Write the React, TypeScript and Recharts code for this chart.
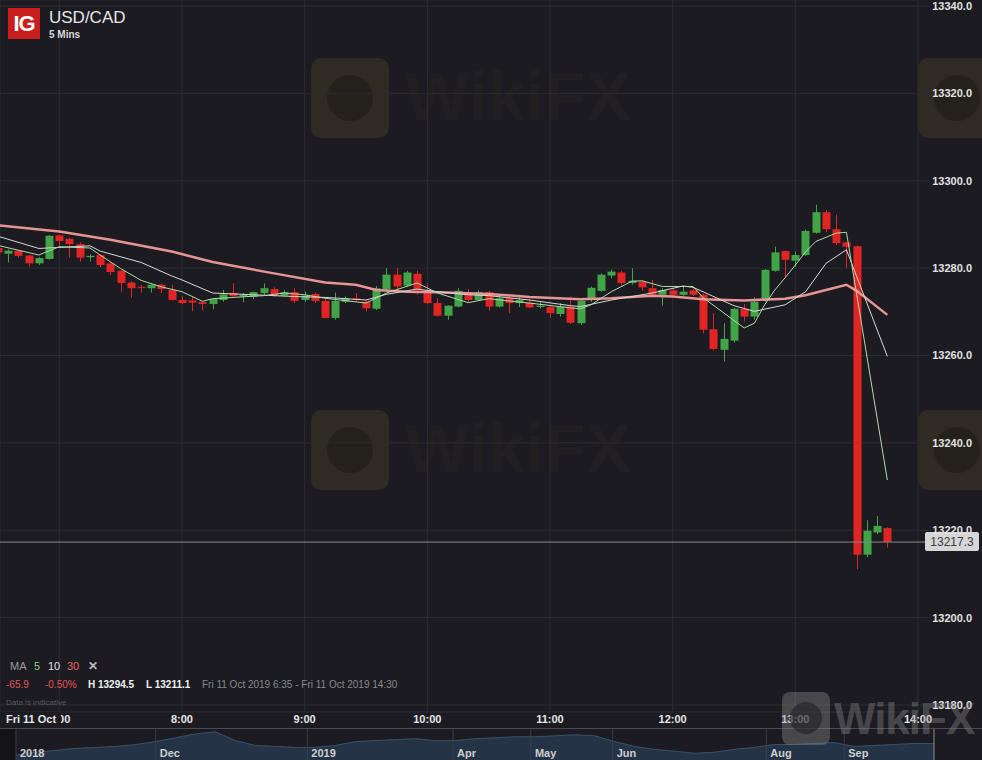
import {
  Area,
  AreaChart,
  Bar,
  CartesianGrid,
  ComposedChart,
  Line,
  ReferenceLine,
  XAxis,
  YAxis,
} from "recharts";

const BG = "#1c1b21";
const GRID = "#2c2c33";
const UP = "#41a447";
const DOWN = "#e12424";
const FONT = '"Liberation Sans", Arial, sans-serif';

// USD/CAD 5 min candles, Fri 11 Oct 2019
const times = [
  "06:30", "06:35", "06:40", "06:45", "06:50", "06:55",
  "07:00", "07:05", "07:10", "07:15", "07:20", "07:25", "07:30", "07:35", "07:40", "07:45", "07:50", "07:55",
  "08:00", "08:05", "08:10", "08:15", "08:20", "08:25", "08:30", "08:35", "08:40", "08:45", "08:50", "08:55",
  "09:00", "09:05", "09:10", "09:15", "09:20", "09:25", "09:30", "09:35", "09:40", "09:45", "09:50", "09:55",
  "10:00", "10:05", "10:10", "10:15", "10:20", "10:25", "10:30", "10:35", "10:40", "10:45", "10:50", "10:55",
  "11:00", "11:05", "11:10", "11:15", "11:20", "11:25", "11:30", "11:35", "11:40", "11:45", "11:50", "11:55",
  "12:00", "12:05", "12:10", "12:15", "12:20", "12:25", "12:30", "12:35", "12:40", "12:45", "12:50", "12:55",
  "13:00", "13:05", "13:10", "13:15", "13:20", "13:25", "13:30", "13:35", "13:40", "13:45",
];

const opens = [
  13284.6, 13283.3, 13284.0, 13282.9, 13281.1, 13282.1,
  13287.5, 13286.7, 13285.5, 13282.5, 13283.0, 13281.1, 13279.4, 13276.7, 13275.7, 13275.4, 13276.2, 13275.0,
  13272.7, 13272.6, 13272.2, 13271.8, 13272.7, 13274.3, 13273.5, 13273.5, 13274.3, 13275.2, 13273.7, 13274.5,
  13272.7, 13274.1, 13272.5, 13268.6, 13272.3, 13273.1, 13272.3, 13270.7, 13275.2, 13278.5, 13276.0, 13278.7,
  13274.9, 13272.0, 13269.1, 13271.2, 13274.4, 13272.7, 13274.5, 13271.2, 13273.1, 13272.0, 13272.1, 13271.1,
  13271.1, 13269.5, 13271.2, 13267.4, 13272.7, 13274.8, 13278.3, 13279.0, 13276.6, 13276.9, 13275.4, 13273.9,
  13274.9, 13273.9, 13274.9, 13273.9, 13266.0, 13261.3, 13263.4, 13270.7, 13268.9, 13272.6, 13279.4, 13283.9,
  13281.7, 13283.0, 13288.1, 13292.8, 13288.9, 13285.9, 13285.0, 13214.4, 13219.5, 13220.5,
];

const highs = [
  13285.0, 13284.3, 13284.2, 13283.0, 13282.5, 13287.6,
  13287.7, 13287.0, 13285.9, 13283.1, 13283.1, 13281.3, 13279.6, 13277.0, 13276.1, 13276.3, 13276.4, 13276.2,
  13273.5, 13273.5, 13272.3, 13273.1, 13275.0, 13276.5, 13274.3, 13274.6, 13276.5, 13275.6, 13274.9, 13275.4,
  13274.6, 13274.4, 13272.9, 13274.4, 13273.5, 13274.3, 13272.7, 13275.9, 13280.0, 13280.0, 13279.4, 13279.4,
  13276.5, 13273.1, 13271.5, 13275.4, 13275.2, 13274.9, 13274.8, 13274.0, 13273.9, 13273.9, 13272.9, 13272.3,
  13271.4, 13272.0, 13273.5, 13272.9, 13275.8, 13278.8, 13279.7, 13279.4, 13280.0, 13277.2, 13277.3, 13275.4,
  13275.4, 13275.9, 13275.4, 13274.1, 13269.7, 13267.4, 13270.9, 13271.8, 13273.3, 13279.8, 13284.9, 13284.1,
  13283.8, 13288.8, 13294.5, 13293.3, 13292.2, 13286.0, 13285.2, 13222.3, 13223.3, 13220.7,
];

const lows = [
  13283.3, 13281.3, 13282.4, 13280.2, 13280.7, 13281.9,
  13285.1, 13282.4, 13281.5, 13281.5, 13280.2, 13278.4, 13274.6, 13273.3, 13274.4, 13274.4, 13274.3, 13272.6,
  13271.8, 13270.1, 13270.3, 13270.6, 13272.3, 13273.5, 13272.2, 13272.9, 13273.9, 13273.5, 13273.5, 13272.0,
  13272.3, 13272.0, 13268.5, 13268.2, 13272.0, 13272.3, 13270.1, 13270.4, 13275.0, 13275.0, 13275.8, 13273.9,
  13271.8, 13268.9, 13268.2, 13271.0, 13272.3, 13272.5, 13270.3, 13271.0, 13269.7, 13271.1, 13270.8, 13270.8,
  13268.6, 13268.9, 13267.2, 13267.0, 13272.3, 13274.6, 13277.7, 13276.2, 13276.2, 13274.9, 13273.7, 13271.4,
  13273.7, 13273.6, 13273.6, 13265.1, 13261.1, 13258.6, 13263.0, 13267.8, 13268.2, 13272.3, 13279.2, 13277.7,
  13280.3, 13282.8, 13287.9, 13288.2, 13285.3, 13280.0, 13211.1, 13213.8, 13219.1, 13216.0,
];

const closes = [
  13283.6, 13284.0, 13282.8, 13281.1, 13282.3, 13287.4,
  13286.2, 13285.5, 13282.4, 13282.8, 13280.7, 13279.1, 13276.6, 13275.4, 13275.5, 13276.2, 13275.2, 13272.7,
  13272.0, 13272.1, 13271.8, 13272.9, 13274.0, 13273.6, 13273.9, 13274.5, 13275.4, 13273.7, 13274.5, 13272.5,
  13273.7, 13272.5, 13268.6, 13272.5, 13273.1, 13272.7, 13270.8, 13275.4, 13278.5, 13275.8, 13279.0, 13274.9,
  13272.0, 13269.1, 13271.4, 13274.8, 13272.7, 13274.5, 13271.2, 13273.1, 13272.0, 13272.7, 13271.0, 13271.4,
  13269.7, 13271.2, 13267.5, 13272.5, 13275.5, 13278.5, 13279.2, 13276.6, 13277.1, 13275.6, 13273.9, 13275.0,
  13273.9, 13274.6, 13273.9, 13265.9, 13261.5, 13263.8, 13270.7, 13268.9, 13272.3, 13279.6, 13283.6, 13281.9,
  13283.0, 13288.5, 13292.8, 13288.9, 13285.7, 13284.9, 13214.4, 13219.9, 13221.0, 13217.3,
];

// moving averages
const ma5Points: [string, number][] = [
  ["06:30", 13285.2], ["06:50", 13283.0], ["07:00", 13284.9], ["07:15", 13284.6], ["07:20", 13283.0],
  ["07:30", 13279.9], ["07:40", 13277.2], ["07:50", 13275.7], ["08:00", 13274.6], ["08:10", 13272.4],
  ["08:15", 13273.0], ["08:25", 13273.3], ["08:40", 13273.7], ["08:50", 13274.3], ["09:00", 13273.9],
  ["09:10", 13273.1], ["09:30", 13272.0], ["09:40", 13274.3], ["09:55", 13276.6], ["10:05", 13274.3],
  ["10:20", 13272.1], ["10:30", 13273.0], ["10:50", 13272.0], ["11:10", 13270.9], ["11:15", 13270.7],
  ["11:20", 13271.6], ["11:30", 13274.6], ["11:40", 13277.0], ["11:45", 13277.1], ["11:55", 13275.8],
  ["12:10", 13275.8], ["12:15", 13273.2], ["12:35", 13266.3], ["12:40", 13267.4], ["12:45", 13271.6],
  ["12:50", 13275.0], ["12:55", 13277.8], ["13:00", 13280.7], ["13:05", 13283.7], ["13:10", 13286.1],
  ["13:20", 13288.0], ["13:25", 13288.2], ["13:45", 13231.5],
];

const ma10Points: [string, number][] = [
  ["06:30", 13287.3], ["06:50", 13284.5], ["07:15", 13285.1], ["07:20", 13283.9], ["07:40", 13281.3],
  ["07:55", 13278.2], ["08:00", 13277.3], ["08:15", 13274.3], ["08:35", 13273.9], ["08:55", 13273.5],
  ["09:10", 13273.3], ["09:30", 13272.7], ["09:40", 13274.0], ["09:55", 13275.2], ["10:05", 13274.6],
  ["10:20", 13273.9], ["10:30", 13273.7], ["10:50", 13272.7], ["11:10", 13271.4], ["11:15", 13271.2],
  ["11:30", 13272.7], ["11:50", 13274.3], ["12:05", 13275.9], ["12:10", 13275.6], ["12:30", 13271.4],
  ["12:40", 13270.1], ["12:55", 13271.6], ["13:05", 13274.6], ["13:15", 13281.1], ["13:25", 13284.2],
  ["13:45", 13259.8],
];

const ma30Points: [string, number][] = [
  ["06:30", 13289.8], ["07:00", 13288.4], ["07:25", 13286.5], ["07:55", 13283.8], ["08:15", 13281.4],
  ["08:45", 13278.8], ["09:10", 13276.7], ["09:25", 13276.2], ["09:35", 13275.0], ["09:50", 13274.6],
  ["10:05", 13274.5], ["10:30", 13274.1], ["10:50", 13273.4], ["11:15", 13272.9], ["11:30", 13273.1],
  ["11:50", 13273.7], ["12:00", 13273.5], ["12:15", 13272.9], ["12:35", 13272.6], ["12:55", 13273.0],
  ["13:05", 13273.8], ["13:15", 13275.0], ["13:25", 13276.2], ["13:30", 13274.8], ["13:45", 13269.3],
];

const priceTicks = [13180, 13200, 13220, 13240, 13260, 13280, 13300, 13320, 13340];
const hourTicks = ["07:00", "08:00", "09:00", "10:00", "11:00", "12:00", "13:00", "14:00"];
const LAST = 13217.3;

// navigator strip (relative level of the long-range series)
const navHistory = [
  5, 8, 10, 12, 13, 14, 16, 19, 23, 27, 29, 20, 15, 14, 13, 13, 15, 19, 20, 21, 22, 20, 20, 22,
  23, 24, 24, 25, 26, 25, 19, 14, 11, 9, 7, 8, 11, 13, 16, 16, 17, 18, 14, 15, 16, 17, 17,
];
const navMonths = ["2018", "Dec", "2019", "Apr", "May", "Jun", "Aug", "Sep"];
const navMonthAt = [0, 7, 14.6, 21.9, 25.8, 29.9, 37.6, 41.5];

const toMin = (s: string) => {
  const [h, m] = s.split(":").map(Number);
  return h * 60 + m;
};

const rows = times.map((t, i) => ({
  t: toMin(t),
  open: opens[i],
  high: highs[i],
  low: lows[i],
  close: closes[i],
  ma5: null as number | null,
  ma10: null as number | null,
  ma30: null as number | null,
}));

const fill = (pts: [string, number][], key: "ma5" | "ma10" | "ma30") => {
  pts.forEach(([t, v]) => {
    const row = rows.find((r) => r.t === toMin(t));
    if (row) row[key] = v;
  });
};
fill(ma5Points, "ma5");
fill(ma10Points, "ma10");
fill(ma30Points, "ma30");

const navData = navHistory.map((v, i) => ({ i, v }));

function Candle(props: any) {
  const { x, y, width, height, payload } = props;
  if (x == null || y == null) return null;
  const { open, close, high, low } = payload;
  const color = close >= open ? UP : DOWN;
  const span = high - low;
  const h = Math.abs(height);
  const yOf = (v: number) => (span > 0 ? y + ((high - v) / span) * h : y);
  const cx = Math.round(x + width / 2) + 0.5;
  const top = yOf(Math.max(open, close));
  const bot = yOf(Math.min(open, close));
  return (
    <g>
      <line x1={cx} x2={cx} y1={y} y2={y + h} stroke={color} strokeWidth={1} />
      <rect x={cx - 4} y={top} width={8} height={Math.max(1, bot - top)} fill={color} />
    </g>
  );
}

function TimeTick(props: any) {
  const { x, y, payload } = props;
  const v = payload.value as number;
  const label = `${Math.floor(v / 60)}:${String(v % 60).padStart(2, "0")}`;
  return (
    <g>
      <text x={x} y={y + 7} textAnchor="middle" dominantBaseline="central" fontSize={11} fontWeight="bold" fill="#e6e6e6" fontFamily={FONT}>
        {label}
      </text>
      {v === 420 && (
        <g>
          <rect x={0} y={y} width={61} height={15} fill={BG} />
          <text x={6} y={y + 7} dominantBaseline="central" fontSize={11} fontWeight="bold" fill="#e6e6e6" fontFamily={FONT}>
            Fri 11 Oct
          </text>
        </g>
      )}
    </g>
  );
}

function PriceTick(props: any) {
  const { x, y, payload } = props;
  return (
    <text x={x + 42} y={y} textAnchor="end" dominantBaseline="central" fontSize={11} fontWeight="bold" fill="#e2e2e2" fontFamily={FONT}>
      {Number(payload.value).toFixed(1)}
    </text>
  );
}

function PriceTag(props: any) {
  const vb = props.viewBox;
  if (!vb) return null;
  const right = vb.x + vb.width;
  const y = vb.y;
  return (
    <g>
      <line x1={right} x2={right + 7} y1={y} y2={y} stroke="#8a8a8a" />
      <rect x={right + 7} y={y - 10} width={54} height={19} rx={2} fill="#d6d6d6" />
      <text x={right + 34} y={y} textAnchor="middle" dominantBaseline="central" fontSize={12} fill="#3a3a3a" fontFamily={FONT}>
        {LAST.toFixed(1)}
      </text>
    </g>
  );
}

function MonthLabel(props: any) {
  const vb = props.viewBox;
  if (!vb) return null;
  return (
    <text x={vb.x + 4} y={vb.y + 24} dominantBaseline="central" fontSize={11} fontWeight="bold" fill="#cfcfcf" fontFamily={FONT}>
      {props.text}
    </text>
  );
}

function GoldMark({ left, top }: { left: number; top: number }) {
  return (
    <div style={{ position: "absolute", left, top, width: 78, height: 80, borderRadius: 10, background: "rgba(120,95,40,0.22)" }}>
      <div style={{ position: "absolute", left: 16, top: 17, width: 46, height: 46, borderRadius: 23, background: "rgba(25,22,20,0.5)" }} />
    </div>
  );
}

const abs = (left: number, top: number, extra: React.CSSProperties = {}): React.CSSProperties => ({
  position: "absolute",
  left,
  top,
  whiteSpace: "nowrap",
  lineHeight: 1,
  ...extra,
});

export default function App() {
  return (
    <div style={{ position: "absolute", left: 0, top: 0, width: 982, height: 760, background: BG, overflow: "hidden", fontFamily: FONT }}>
      {/* faint watermarks */}
      <GoldMark left={311} top={58} />
      <GoldMark left={311} top={410} />
      <GoldMark left={918} top={58} />
      <GoldMark left={918} top={410} />
      <div style={abs(405, 62, { fontSize: 68, fontWeight: "bold", color: "rgba(120,95,40,0.06)" })}>WikiFX</div>
      <div style={abs(405, 414, { fontSize: 68, fontWeight: "bold", color: "rgba(120,95,40,0.06)" })}>WikiFX</div>

      <div style={{ position: "absolute", left: 0, top: 0 }}>
        <ComposedChart width={982} height={728} data={rows} margin={{ top: 0, right: 0, bottom: 0, left: 0 }}>
          <CartesianGrid stroke={GRID} />
          <XAxis
            dataKey="t"
            type="number"
            domain={[391, 840]}
            allowDataOverflow
            ticks={hourTicks.map(toMin)}
            interval={0}
            tick={<TimeTick />}
            axisLine={false}
            tickLine={false}
            tickSize={0}
            tickMargin={0}
            height={16}
          />
          <YAxis
            orientation="right"
            type="number"
            domain={[13178.4, 13341.37]}
            allowDataOverflow
            ticks={priceTicks}
            interval={0}
            width={64}
            axisLine={false}
            tickLine={{ stroke: GRID }}
            tickSize={12}
            tickMargin={0}
            tick={<PriceTick />}
          />
          <Bar
            dataKey={(d: any) => [d.low, d.high]}
            barSize={8}
            shape={<Candle />}
            isAnimationActive={false}
          />
          <Line dataKey="ma30" stroke="#e59595" strokeWidth={2.5} dot={false} connectNulls isAnimationActive={false} />
          <Line dataKey="ma10" stroke="#d8d8d8" strokeWidth={1} dot={false} connectNulls isAnimationActive={false} />
          <Line dataKey="ma5" stroke="#aedba8" strokeWidth={1} dot={false} connectNulls isAnimationActive={false} />
          <ReferenceLine y={LAST} stroke="#8a8a8a" label={<PriceTag />} />
        </ComposedChart>
      </div>

      {/* navigator */}
      <div style={{ position: "absolute", left: 0, top: 728, width: 982, height: 32, borderTop: "1px solid #4a4a52", boxSizing: "border-box" }}>
        <div style={{ position: "absolute", left: 0, top: 0, width: 16, height: 32, background: "#141418" }} />
        <AreaChart width={982} height={31} data={navData} margin={{ top: 0, right: 48, bottom: 0, left: 16 }}>
          <XAxis dataKey="i" type="number" domain={[0, navHistory.length - 1]} hide />
          <YAxis domain={[0, 32]} hide />
          <Area dataKey="v" type="linear" stroke="#3a5068" fill="#243446" fillOpacity={1} isAnimationActive={false} />
          {navMonths.map((m, k) => (
            <ReferenceLine key={m} x={navMonthAt[k]} stroke="#3c3c45" label={<MonthLabel text={m} />} />
          ))}
          <ReferenceLine x={navHistory.length - 1} stroke="#8a8a8a" />
        </AreaChart>
      </div>

      {/* header */}
      <div style={{ position: "absolute", left: 8, top: 8, width: 32, height: 31, background: "#c81e1e", color: "#fff", fontWeight: "bold", fontSize: 22, lineHeight: "31px", textAlign: "center", letterSpacing: -1 }}>
        IG
      </div>
      <div style={abs(49, 9, { fontSize: 17, color: "#e6e6e6" })}>USD/CAD</div>
      <div style={abs(49, 30, { fontSize: 10, fontWeight: "bold", color: "#d8d8d8" })}>5 Mins</div>

      {/* legend */}
      <div style={abs(10, 661, { fontSize: 11, color: "#9a9a9a" })}>MA</div>
      <div style={abs(34, 661, { fontSize: 11, color: "#8cc68c" })}>5</div>
      <div style={abs(48, 661, { fontSize: 11, color: "#e0e0e0" })}>10</div>
      <div style={abs(67, 661, { fontSize: 11, color: "#e06666" })}>30</div>
      <div style={abs(88, 660, { fontSize: 12, fontWeight: "bold", color: "#bdbdbd" })}>✕</div>
      <div style={abs(6, 680, { fontSize: 10, color: "#e05555" })}>-65.9</div>
      <div style={abs(45, 680, { fontSize: 10, color: "#e05555" })}>-0.50%</div>
      <div style={abs(88, 680, { fontSize: 10, fontWeight: "bold", color: "#f0f0f0" })}>H 13294.5</div>
      <div style={abs(146, 680, { fontSize: 10, fontWeight: "bold", color: "#f0f0f0" })}>L 13211.1</div>
      <div style={abs(202, 680, { fontSize: 10, color: "#8a8a8a" })}>Fri 11 Oct 2019 6:35 - Fri 11 Oct 2019 14:30</div>
      <div style={abs(6, 699, { fontSize: 8, color: "#5a5a5a" })}>Data is indicative</div>

      {/* bottom-right watermark */}
      <div style={{ position: "absolute", left: 782, top: 692, width: 48, height: 53, borderRadius: 8, background: "rgba(140,140,140,0.4)" }}>
        <div style={{ position: "absolute", left: 8, top: 10, width: 32, height: 32, borderRadius: 16, background: "rgba(30,30,34,0.55)" }} />
      </div>
      <div style={abs(834, 697, { fontSize: 44, fontWeight: "bold", color: "rgba(140,140,140,0.4)", letterSpacing: -1 })}>WikiFX</div>
    </div>
  );
}
